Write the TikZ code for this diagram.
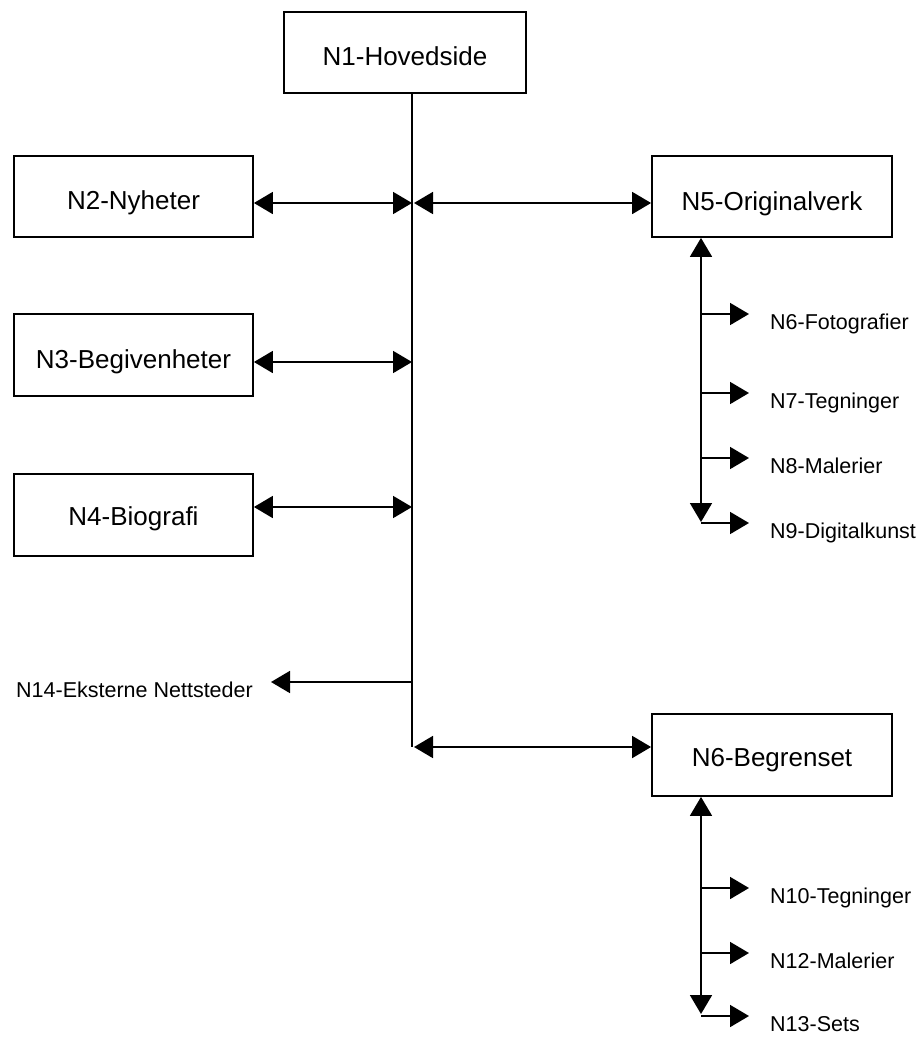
\documentclass[tikz,border=0pt]{standalone}
\usepackage{fontspec}
\setmainfont{Liberation Sans}
\usetikzlibrary{arrows.meta}
\begin{document}
\begin{tikzpicture}[x=1pt,y=-1pt,
  pagebox/.style={draw, line width=1.8pt, inner sep=0pt, anchor=center,
    text depth=0pt, text height=25pt, font=\fontsize{26}{31}\selectfont},
  leaf/.style={inner ysep=0pt, inner xsep=21pt, anchor=west,
    text depth=0pt, text height=15.4pt, font=\fontsize{21.5}{26}\selectfont},
  link/.style={line width=1.8pt},
  tip/.style={-{Triangle[length=19pt,width=22pt]}},
  twotips/.style={{Triangle[length=19pt,width=22pt]}-{Triangle[length=19pt,width=22pt]}}
]
\useasboundingbox (0,0) rectangle (918,1037);

% page boxes (text height nudges the caption inside each box)
\node[pagebox, minimum width=242pt, minimum height=81pt, text height=25.2pt] (n1) at (405,52.5) {N1-Hovedside};
\node[pagebox, minimum width=239pt, minimum height=81pt, text height=25.6pt] (n2) at (133.5,196.5) {N2-Nyheter};
\node[pagebox, minimum width=239pt, minimum height=82pt, text height=26.6pt] (n3) at (133.5,355) {N3-Begivenheter};
\node[pagebox, minimum width=239pt, minimum height=82pt, text height=20.6pt] (n4) at (133.5,515) {N4-Biografi};
\node[pagebox, minimum width=240pt, minimum height=81pt, text height=27.6pt] (n5) at (772,196.5) {N5-Originalverk};
\node[pagebox, minimum width=240pt, minimum height=82pt, text height=23pt] (n6) at (772,755) {N6-Begrenset};

% external links label
\node[inner ysep=0pt, inner xsep=18pt, anchor=east, text depth=0pt, text height=15.4pt,
  font=\fontsize{21.5}{26}\selectfont] (n14) at (271,690) {N14-Eksterne Nettsteder};

% main trunk and its junctions
\coordinate (j2) at (412,203);
\coordinate (j3) at (412,362);
\coordinate (j4) at (412,507);
\coordinate (j14) at (412,682);
\coordinate (jb) at (412,747);
\draw[link] (n1.south -| jb) -- (jb);

\draw[link,twotips] (n2.east |- j2) -- (j2);
\draw[link,twotips] ([xshift=2pt]j2) -- (n5.west |- j2);
\draw[link,twotips] (n3.east |- j3) -- (j3);
\draw[link,twotips] (n4.east |- j4) -- (j4);
\draw[link,tip] (j14) -- (n14.east |- j14);
\draw[link,twotips] ([xshift=2pt]jb) -- (n6.west |- jb);

% sub pages of N5
\coordinate (v5) at (701,522);
\draw[link,twotips] (n5.south -| v5) -- (v5);
\coordinate (a6) at (701,314);
\coordinate (a7) at (701,393);
\coordinate (a8) at (701,458);
\coordinate (a9) at (701,523);
\node[leaf] (l6) at (749,322) {N6-Fotografier};
\node[leaf] (l7) at (749,401) {N7-Tegninger};
\node[leaf] (l8) at (749,466) {N8-Malerier};
\node[leaf] (l9) at (749,531) {N9-Digitalkunst};
\foreach \a/\l in {a6/l6,a7/l7,a8/l8,a9/l9}
  \draw[link,tip] (\a) -- (\l.west |- \a);

% sub pages of N6
\coordinate (v6) at (701,1014);
\draw[link,twotips] (n6.south -| v6) -- (v6);
\coordinate (a10) at (701,888);
\coordinate (a12) at (701,953);
\coordinate (a13) at (701,1016);
\node[leaf] (l10) at (749,896) {N10-Tegninger};
\node[leaf] (l12) at (749,961) {N12-Malerier};
\node[leaf] (l13) at (749,1024) {N13-Sets};
\foreach \a/\l in {a10/l10,a12/l12,a13/l13}
  \draw[link,tip] (\a) -- (\l.west |- \a);
\end{tikzpicture}
\end{document}
